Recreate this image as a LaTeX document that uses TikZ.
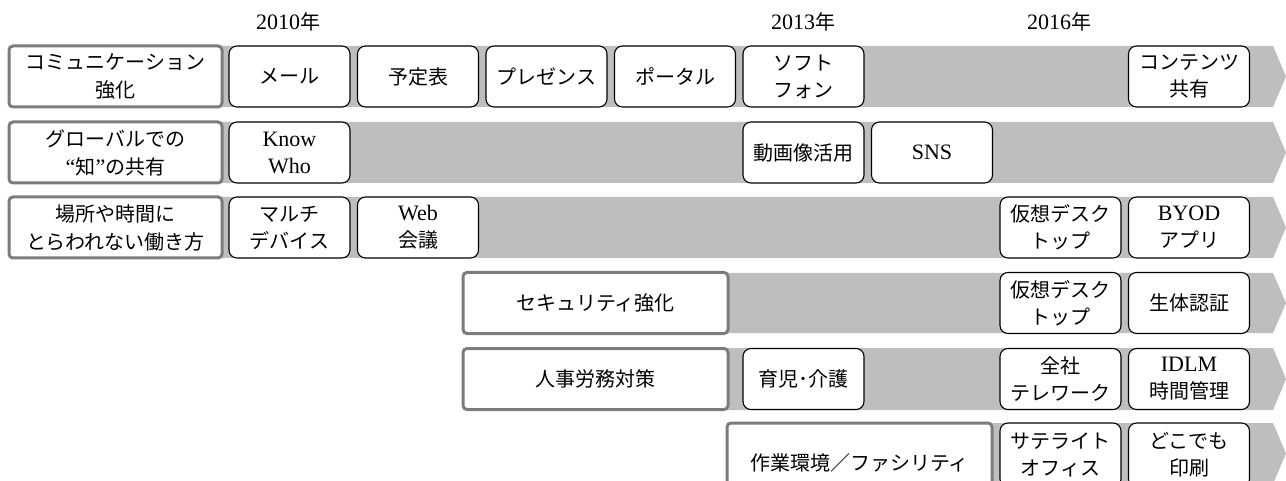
\documentclass[tikz,border=0pt]{standalone}
\usepackage{fontspec}
\setmainfont{Liberation Serif}
\newfontfamily\jpfont{Noto Sans CJK JP}
\newcommand{\latn}[1]{{\rmfamily\fontsize{22}{27}\selectfont #1}}
\definecolor{bandgray}{HTML}{BDBEC0}
\definecolor{catgray}{HTML}{7C7C7C}
\begin{document}
\begin{tikzpicture}[x=1pt,y=-1pt,
  band/.style={fill=bandgray},
  cat/.style={draw=catgray, line width=3pt, fill=white, rounded corners=4pt,
    minimum width=213pt, minimum height=61pt, inner sep=0pt, align=center,
    font=\jpfont\fontsize{20}{28}\selectfont},
  item/.style={draw=black, line width=1.1pt, fill=white, rounded corners=8pt,
    minimum width=121pt, minimum height=61pt, inner sep=0pt, align=center,
    font=\jpfont\fontsize{20}{27}\selectfont},
  year/.style={inner sep=0pt, font=\jpfont\fontsize{20}{24}\selectfont}]
\useasboundingbox (0,0) rectangle (1286,481);
\fill[white] (0,0) rectangle (1286,481);
% bands
\fill[band] (215,46) -- (1273,46) -- (1286,76.5) -- (1273,107) -- (215,107) -- cycle;
\fill[band] (215,122) -- (1273,122) -- (1286,152.5) -- (1273,183) -- (215,183) -- cycle;
\fill[band] (215,197) -- (1273,197) -- (1286,227.5) -- (1273,258) -- (215,258) -- cycle;
\fill[band] (720,273) -- (1273,273) -- (1286,303) -- (1273,333) -- (720,333) -- cycle;
\fill[band] (720,348) -- (1273,348) -- (1286,379) -- (1273,410) -- (720,410) -- cycle;
\fill[band] (985,423) -- (1273,423) -- (1286,453.5) -- (1273,484) -- (985,484) -- cycle;
% years
\node[year] (y1) at (288,22) {\latn{2010}年};
\node[year] (y2) at (803,22) {\latn{2013}年};
\node[year] (y3) at (1059,22) {\latn{2016}年};
% row 1
\node[cat] (c1) at (115.5,76.5) {コミュニケーション\\強化};
\node[item] (r1a) at (289.5,76.5) {メール};
\node[item] (r1b) at (418,76.5) {予定表};
\node[item] (r1c) at (546.5,76.5) {プレゼンス};
\node[item] (r1d) at (675,76.5) {ポータル};
\node[item] (r1e) at (803.5,76.5) {ソフト\\フォン};
\node[item] (r1h) at (1189,76.5) {コンテンツ\\共有};
% row 2
\node[cat] (c2) at (115.5,152.5) {グローバルでの\\\latn{“}知\latn{”}の共有};
\node[item] (r2a) at (289.5,152.5) {\latn{Know}\\\latn{Who}};
\node[item] (r2e) at (803.5,152.5) {動画像活用};
\node[item] (r2f) at (932,152.5) {\latn{SNS}};
% row 3
\node[cat] (c3) at (115.5,227.5) {場所や時間に\\とらわれない働き方};
\node[item] (r3a) at (289.5,227.5) {マルチ\\デバイス};
\node[item] (r3b) at (418,227.5) {\latn{Web}\\会議};
\node[item] (r3g) at (1060.5,227.5) {仮想デスク\\トップ};
\node[item] (r3h) at (1189,227.5) {\latn{BYOD}\\アプリ};
% row 4
\node[cat, minimum width=265pt] (c4) at (595.5,303) {セキュリティ強化};
\node[item] (r4g) at (1060.5,303) {仮想デスク\\トップ};
\node[item] (r4h) at (1189,303) {生体認証};
% row 5
\node[cat, minimum width=265pt] (c5) at (595.5,379) {人事労務対策};
\node[item] (r5e) at (803.5,379) {育児･介護};
\node[item] (r5g) at (1060.5,379) {全社\\テレワーク};
\node[item] (r5h) at (1189,379) {\latn{IDLM}\\時間管理};
% row 6
\node[cat, minimum width=265pt, minimum height=80pt] (c6) at (859.5,463) {作業環境／ファシリティ};
\node[item, minimum height=64pt] (r6g) at (1060.5,455) {サテライト\\オフィス};
\node[item, minimum height=64pt] (r6h) at (1189,455) {どこでも\\印刷};
\end{tikzpicture}
\end{document}
